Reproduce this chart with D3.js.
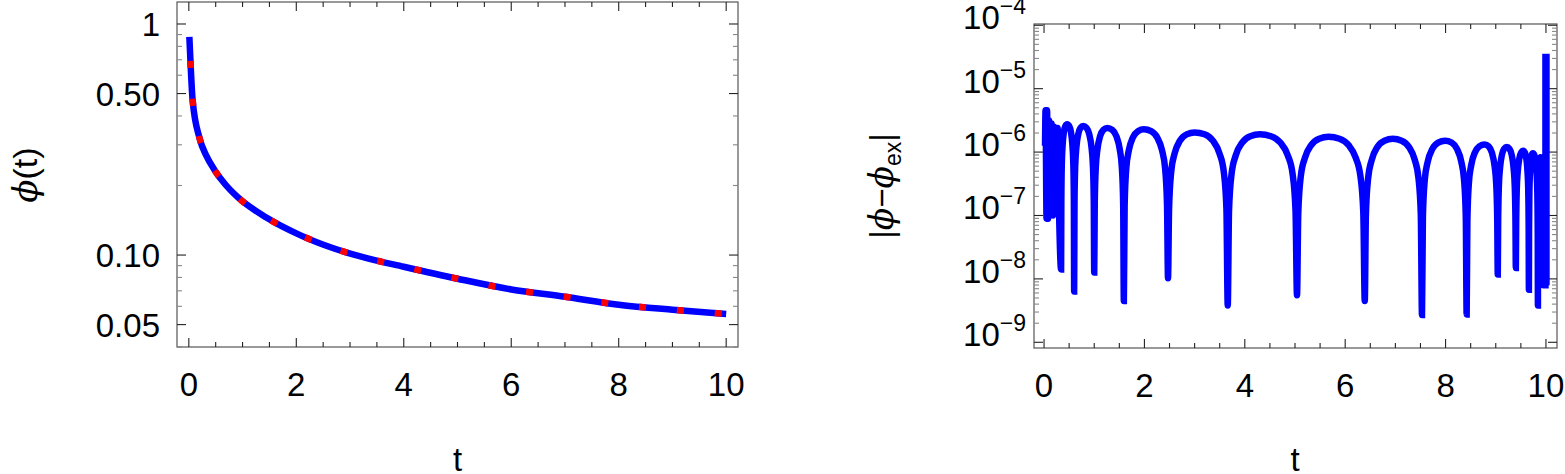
<!DOCTYPE html>
<html><head><meta charset="utf-8">
<script src="https://cdn.jsdelivr.net/npm/d3@7"></script>
<style>body{margin:0;background:#fff}text{font-family:"Liberation Sans",Arial,sans-serif}</style>
</head><body><svg id="c" width="1565" height="474"></svg>
<script>
// left panel: phi(t)
var phiT = [0.01,0.02,0.07,0.2,0.33,0.48,0.68,0.91,1.45,2.07,2.69,3.31,4,5,6,7,8,9,10];
var phiV = [0.88,0.78,0.47,0.32,0.268,0.233,0.202,0.178,0.145,0.122,0.107,0.097,0.089,0.079,0.071,0.066,0.061,0.058,0.0556];
var xTicks = [0,2,4,6,8,10];
var phiTicks = [1,0.5,0.1,0.05];
var phiTickLabels = ["1","0.50","0.10","0.05"];

// right panel: log10 error; noisy start, arch minima / peaks, end spike
var noiseT = [0.02,0.03,0.05,0.06,0.08,0.10,0.13,0.15,0.18,0.20,0.24,0.27,0.30];
var noiseV = [-5.9,-5.34,-7.05,-5.34,-7.05,-5.5,-7.0,-5.55,-7.0,-5.6,-6.97,-5.62,-6.97];
var minT = [0.34,0.60,1.0,1.59,2.47,3.66,5.04,6.39,7.53,8.42,9.04,9.40,9.66,9.84,9.95];
var minV = [-7.85,-8.20,-7.90,-8.35,-7.99,-8.42,-8.26,-8.35,-8.57,-8.56,-7.93,-7.83,-8.17,-8.42,-8.1];
var peakT = [0.46,0.78,1.26,1.99,3.0,4.3,5.67,6.95,7.99,8.78,9.22,9.55,9.74,9.89];
var peakV = [-5.56,-5.59,-5.62,-5.64,-5.69,-5.72,-5.76,-5.79,-5.82,-5.88,-5.92,-5.98,-6.02,-6.08];
var spikeT = [9.99,9.99,10.01,10.01];
var spikeV = [-8.1,-4.5,-4.5,-8.1];
// arch profile: [fraction of half width from the minimum, drop below peak]
var archU = [0.04,0.12,0.25,0.45,0.7,1];
var archD = [-1.2,-0.62,-0.33,-0.13,-0.03,0];
var errTicks = [-4,-5,-6,-7,-8,-9];

var svg = d3.select("#c");

function frame(x0,x1,y0,y1){
    svg.append("rect").attr("x",x0).attr("y",y0).attr("width",x1-x0).attr("height",y1-y0)
        .attr("fill","none").attr("stroke","#555").attr("stroke-width",1.2);
}
function tick(x1,y1,x2,y2,c){
    svg.append("line").attr("x1",x1).attr("y1",y1).attr("x2",x2).attr("y2",y2)
        .attr("stroke",c||"#222").attr("stroke-width",1.1);
}
function xAxisTicks(x,y0,y1){
    for (var t=0;t<=10.001;t+=0.5){
        var major = Math.abs(t%2)<1e-6, L = major?9:5;
        tick(x(t),y1,x(t),y1-L); tick(x(t),y0,x(t),y0+L);
    }
    xTicks.forEach(function(t){
        svg.append("text").attr("x",x(t)).attr("y",y1+49).attr("text-anchor","middle")
            .attr("font-size",33).text(t);
    });
    svg.append("text").attr("x",(x(0)+x(10))/2).attr("y",471).attr("text-anchor","middle")
        .attr("font-size",33).text("t");
}

// ---------------- left ----------------
var L = {x0:177,x1:738,y0:2,y1:347};
var xl = d3.scaleLinear().domain([-0.22,10.22]).range([L.x0,L.x1]);
var yl = d3.scaleLog().domain([0.04,1.245]).range([L.y1,L.y0]);
frame(L.x0,L.x1,L.y0,L.y1);
xAxisTicks(xl,L.y0,L.y1);
[0.04,0.05,0.06,0.07,0.08,0.09,0.1,0.2,0.3,0.4,0.5,0.6,0.7,0.8,0.9,1].forEach(function(v){
    var major = phiTicks.indexOf(v)>=0, len = major?9:5, c = major?"#222":"#888";
    tick(L.x0,yl(v),L.x0+len,yl(v),c); tick(L.x1,yl(v),L.x1-len,yl(v),c);
});
phiTicks.forEach(function(v,i){
    svg.append("text").attr("x",160).attr("y",yl(v)+12).attr("text-anchor","end")
        .attr("font-size",33).text(phiTickLabels[i]);
});
svg.append("text").attr("transform","translate(37,175) rotate(-90)").attr("text-anchor","middle")
    .attr("font-size",34).html("<tspan font-style='italic' font-family='DejaVu Serif'>ϕ</tspan>(t)");
var phiLine = d3.line().x(function(d){return xl(d[0]);}).y(function(d){return yl(d[1]);}).curve(d3.curveMonotoneX);
var phiData = d3.zip(phiT,phiV);
svg.append("path").attr("d",phiLine(phiData)).attr("fill","none").attr("stroke","#0000ff").attr("stroke-width",6.5);
svg.append("path").attr("d",phiLine(phiData)).attr("fill","none").attr("stroke","#ff0000").attr("stroke-width",6.5)
    .attr("stroke-dasharray","7,31").attr("stroke-dashoffset",-24);

// ---------------- right ----------------
var R = {x0:1034,x1:1557,y0:24,y1:348};
var xr = d3.scaleLinear().domain([-0.2,10.22]).range([R.x0,R.x1]);
var yr = d3.scaleLinear().domain([-9.09,-3.98]).range([R.y1,R.y0]);
frame(R.x0,R.x1,R.y0,R.y1);
xAxisTicks(xr,R.y0,R.y1);
errTicks.forEach(function(e){
    tick(R.x0,yr(e),R.x0+9,yr(e)); tick(R.x1,yr(e),R.x1-9,yr(e));
    for (var k=2;k<=9;k++){
        var v = e+Math.log10(k);
        if (v>-3.98) continue;
        tick(R.x0,yr(v),R.x0+5,yr(v),"#888"); tick(R.x1,yr(v),R.x1-5,yr(v),"#888");
    }
    var t = svg.append("text").attr("x",1026).attr("y",yr(e)+4).attr("text-anchor","end").attr("font-size",33);
    t.append("tspan").text("10");
    t.append("tspan").attr("dy",-15).attr("font-size",23).text("\u2212"+(-e));
});
svg.append("text").attr("transform","translate(893,186) rotate(-90)").attr("text-anchor","middle")
    .attr("font-size",33).html("|<tspan font-style='italic' font-family='DejaVu Serif'>ϕ</tspan>\u2212<tspan font-style='italic' font-family='DejaVu Serif'>ϕ</tspan><tspan font-size='23' dy='8'>ex</tspan><tspan dy='-8'>|</tspan>");

var errLine = d3.line().x(function(d){return xr(d[0]);}).y(function(d){return yr(d[1]);});
var errData = d3.zip(noiseT,noiseV);
for (var i=0;i<peakT.length;i++){
    var a = minT[i], b = minT[i+1], c = peakT[i], p = peakV[i];
    errData.push([a,minV[i]]);
    archU.forEach(function(u,j){ errData.push([a+(c-a)*u, p+archD[j]]); });
    for (var j=archU.length-2;j>=0;j--) errData.push([c+(b-c)*(1-archU[j]), p+archD[j]]);
}
errData.push([minT[minT.length-1],minV[minV.length-1]]);
d3.zip(spikeT,spikeV).forEach(function(d){errData.push(d);});
svg.append("path").attr("d",errLine.curve(d3.curveMonotoneX)(errData)).attr("fill","none")
    .attr("stroke","#0000ff").attr("stroke-width",6.5).attr("stroke-linejoin","miter");
</script></body></html>
